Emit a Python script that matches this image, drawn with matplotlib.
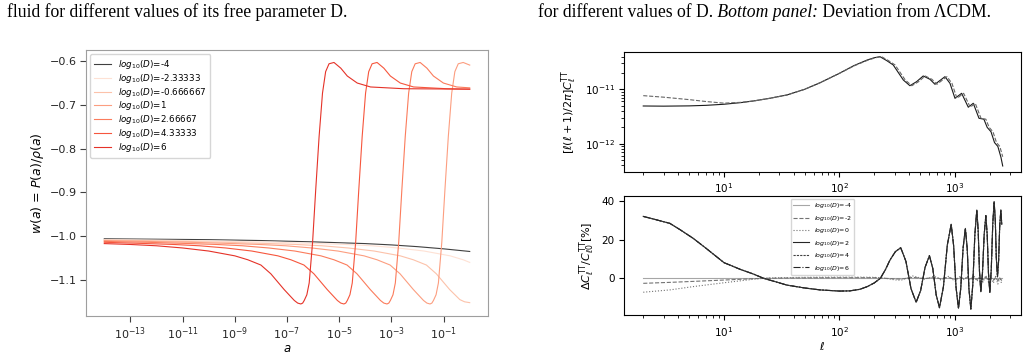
import numpy as np
import matplotlib
matplotlib.use("Agg")
import matplotlib.pyplot as plt
from matplotlib.ticker import NullLocator

# ---- left panel: w(a) (x given as log10 a)
labels_left = ['-4', '-2.33333', '-0.666667', '1', '2.66667', '4.33333', '6']

loga_m4 = [-14, -12, -10, -8, -6, -4, -3, -2, -1, -0.5, 0]
w_m4 = [-1.006, -1.007, -1.008, -1.010, -1.013, -1.017, -1.020, -1.024, -1.029, -1.032, -1.035]

loga_m233 = [-14, -12.32, -10.72, -9.02, -7.42, -5.75, -4.75, -3.75, -2.75, -1.75, -0.75, -0.25, 0]
w_m233 = [-1.008, -1.009, -1.010, -1.012, -1.014, -1.017, -1.019, -1.022, -1.027, -1.034, -1.045, -1.054, -1.060]

loga_m067 = [-14, -12.63, -10.93, -9.33, -7.66, -6.66, -5.66, -4.66, -3.66, -2.66, -2.16, -1.66, -1.28, -0.77, -0.38, -0.2, 0]
w_m067 = [-1.009, -1.010, -1.012, -1.014, -1.017, -1.019, -1.022, -1.027, -1.034, -1.045, -1.054, -1.066, -1.086, -1.122, -1.145, -1.150, -1.152]

loga_1 = [-14, -12.32, -10.72, -9.05, -8.05, -7.05, -6.05, -5.05, -4.05, -3.55, -3.05, -2.67, -2.16, -1.77, -1.64, -1.52,
          -1.45, -1.39, -1.29, -1.20, -1.07, -0.95, -0.82, -0.69, -0.57, -0.44, -0.25, 0]
w_1 = [-1.010, -1.012, -1.014, -1.017, -1.019, -1.022, -1.027, -1.034, -1.045, -1.054, -1.066, -1.086, -1.122, -1.147, -1.153, -1.155,
       -1.153, -1.147, -1.134, -1.107, -1.014, -0.894, -0.772, -0.673, -0.624, -0.606, -0.603, -0.609]

loga_267 = [-14, -12.37, -10.70, -9.70, -8.70, -7.70, -6.70, -5.70, -5.20, -4.70, -4.32, -3.81, -3.42, -3.29, -3.17,
            -3.10, -3.04, -2.94, -2.85, -2.72, -2.60, -2.47, -2.34, -2.22, -2.09, -1.90, -1.64, -1.39, -1.01, -0.50, 0]
w_267 = [-1.012, -1.014, -1.017, -1.019, -1.022, -1.027, -1.034, -1.045, -1.054, -1.066, -1.086, -1.122, -1.147, -1.153, -1.155,
         -1.153, -1.147, -1.134, -1.107, -1.014, -0.894, -0.772, -0.673, -0.624, -0.606, -0.603, -0.616, -0.634, -0.650, -0.659, -0.661]

loga_433 = [-14, -12.35, -11.35, -10.35, -9.35, -8.35, -7.35, -6.85, -6.35, -5.97, -5.46, -5.07, -4.94, -4.82,
            -4.75, -4.69, -4.59, -4.50, -4.37, -4.25, -4.12, -3.99, -3.87, -3.74, -3.55, -3.29, -3.04, -2.66, -2.15, -0.88, 0]
w_433 = [-1.014, -1.017, -1.019, -1.022, -1.027, -1.034, -1.045, -1.054, -1.066, -1.086, -1.122, -1.147, -1.153, -1.155,
         -1.153, -1.147, -1.134, -1.107, -1.014, -0.894, -0.772, -0.673, -0.624, -0.606, -0.603, -0.616, -0.634, -0.650, -0.659, -0.663, -0.664]

loga_6 = [-14, -13, -12, -11, -10, -9, -8.5, -8, -7.62, -7.11, -6.72, -6.59, -6.47, -6.40, -6.34, -6.24, -6.15, -6.02, -5.90,
          -5.77, -5.64, -5.52, -5.39, -5.20, -4.94, -4.69, -4.31, -3.80, -2.53, 0]
w_6 = [-1.017, -1.019, -1.022, -1.027, -1.034, -1.045, -1.054, -1.066, -1.086, -1.122, -1.147, -1.153, -1.155, -1.153, -1.147, -1.134, -1.107, -1.014, -0.894,
       -0.772, -0.673, -0.624, -0.606, -0.603, -0.616, -0.634, -0.650, -0.659, -0.663, -0.664]

# ---- right top: [l(l+1)/2pi] C_l^TT (log10), two groups of curves
ell_a = [2, 3, 5, 7, 10, 14, 18, 25, 35, 50, 68, 100, 133, 174, 200, 224, 257, 292, 357, 407, 465, 531, 607, 671,
         750, 819, 905, 1000, 1142, 1304, 1440, 1614, 1780, 1900, 2050, 2200, 2350, 2500, 2590]
logcl_a = [-11.307, -11.310, -11.305, -11.295, -11.275, -11.245, -11.215, -11.165, -11.105, -11.00, -10.879, -10.706,
           -10.566, -10.461, -10.42, -10.40, -10.474, -10.553, -10.829, -10.934, -10.86, -10.755, -10.816, -10.908,
           -10.83, -10.768, -10.89, -11.166, -11.074, -11.33, -11.257, -11.533, -11.55, -11.70, -11.78, -11.98,
           -12.05, -12.25, -12.41]
ell_b = [2, 3, 5, 7, 10, 14, 18, 25, 35, 50, 68, 100, 135, 178, 206, 231, 266, 303, 371, 423, 484, 552, 631, 698,
         780, 852, 941, 1040, 1188, 1356, 1498, 1679, 1851, 1976, 2132, 2288, 2444, 2590]
logcl_b = [-11.117, -11.145, -11.19, -11.225, -11.255, -11.24, -11.215, -11.165, -11.105, -11.00, -10.879, -10.706,
           -10.566, -10.461, -10.42, -10.40, -10.474, -10.553, -10.829, -10.934, -10.86, -10.755, -10.816, -10.908,
           -10.83, -10.768, -10.89, -11.166, -11.074, -11.33, -11.257, -11.533, -11.55, -11.70, -11.78, -11.98,
           -12.05, -12.24]

# ---- right bottom: deviation from LCDM [%]
labels_right = ['-4', '-2', '0', '2', '4', '6']
ell_big = [2, 2.5, 3.4, 4.2, 5.4, 7, 10, 14, 18, 22, 28, 35, 50, 68, 100, 123, 150, 174, 200, 226, 250, 274, 305, 339,
           376, 416, 461, 504, 551, 601, 643, 687, 734, 794, 858, 927, 973, 1021, 1072, 1122, 1175, 1230, 1276, 1321,
           1372, 1427, 1486, 1545, 1588, 1630, 1674, 1730, 1790, 1850, 1901, 1950, 2003, 2061, 2123, 2183, 2234,
           2280, 2333, 2388, 2438, 2495, 2541]
dev_big = [32.0, 30.5, 28.4, 25.0, 20.7, 15.5, 8.1, 4.5, 2.2, 0.0, -1.8, -3.5, -5.0, -6.0, -6.6, -6.5, -5.7, -4.3,
           -2.4, 0.0, 4.5, 9.5, 13.8, 15.8, 8.8, -5.3, -12.4, -6.4, 5.7, 11.7, 5.0, -8.5, -15.2, -4.4, 17.1, 27.9,
           17.0, -4.6, -15.5, -5.2, 15.5, 25.8, 15.4, -5.5, -15.9, -3.1, 22.5, 35.3, 24.7, 3.6, -6.9, 2.9, 22.6,
           32.4, 22.5, 2.6, -7.3, 4.4, 27.9, 39.6, 29.9, 10.5, 0.8, 9.4, 26.7, 35.3, 27.9]
ell_small = [2, 3.4, 5.4, 10, 18, 22, 30, 50, 100, 150, 200, 250, 300, 340, 380, 430, 480, 540, 600, 650, 700,
             760, 820, 880, 950, 1000, 1060, 1120, 1200, 1280, 1350, 1450, 1550, 1650, 1750, 1850, 1950, 2050,
             2150, 2250, 2350, 2450, 2541]
dev_d0 = [-7.2, -6.0, -4.3, -2.3, -0.5, 0.0, 0.3, 0.5, 0.6, 0.6, 0.5, 0.0, -0.8, -1.0, 0.0, 1.2, 0.5, -0.5, 0.3,
          1.0, 0.5, -1.0, 0.2, 1.0, -0.5, -1.5, 0.0, 1.2, -0.8, 1.0, -1.0, 1.5, -1.5, 1.2, -2.0, 1.5, -2.0, 1.0,
          -2.5, 1.0, -3.0, 0.5, -3.1]
dev_dm2 = [-2.6, -2.1, -1.6, -0.9, -0.2, 0.0, 0.1, 0.2, 0.3, 0.3, 0.3, 0.0, -0.3, -0.4, 0.0, 0.5, 0.2, -0.2, 0.1,
           0.4, 0.2, -0.4, 0.1, 0.4, -0.2, -0.6, 0.0, 0.5, -0.3, 0.4, -0.4, 0.6, -0.6, 0.5, -0.8, 0.6, -0.8, 0.4,
           -1.0, 0.4, -1.2, 0.2, -1.2]
dev_dm4 = [0.0] * len(ell_small)

W, H = 1028, 354
fig = plt.figure(figsize=(W / 100, H / 100), dpi=100)

# ---------------- left panel
ax = fig.add_axes([86 / W, 1 - 316 / H, (488 - 86) / W, (316 - 50) / H])
reds = plt.cm.Reds(np.linspace(0.12, 0.66, 6))
curves = [(loga_m233, w_m233), (loga_m067, w_m067), (loga_1, w_1),
          (loga_267, w_267), (loga_433, w_433), (loga_6, w_6)]
ax.plot(10 ** np.array(loga_m4), w_m4, color='0.25', lw=0.8, label=r'$log_{10}(D)$=' + labels_left[0])
for (lx, wy), c, lab in zip(curves, reds, labels_left[1:]):
    ax.plot(10 ** np.array(lx), wy, color=c, lw=0.8, label=r'$log_{10}(D)$=' + lab)
ax.set_xscale('log')
ax.set_xlim(10 ** -14.7, 10 ** 0.7)
ax.set_ylim(-1.1825, -0.5745)
ax.set_xticks([1e-13, 1e-11, 1e-9, 1e-7, 1e-5, 1e-3, 1e-1])
ax.xaxis.set_minor_locator(NullLocator())
ax.set_yticks([-1.1, -1.0, -0.9, -0.8, -0.7, -0.6])
for s in ax.spines.values():
    s.set_color('0.62')
ax.tick_params(labelsize=8, color='0.25', labelcolor='0.15', length=4, pad=2.5)
ax.set_xlabel(r'$a$', fontsize=8.5, labelpad=0)
ax.set_ylabel(r'$w(a)$ = $P(a)/\rho(a)$', fontsize=9, labelpad=3)
ax.legend(loc='upper left', fontsize=6.3, handlelength=2.0, labelspacing=0.1, framealpha=0.8)

# ---------------- right top
ax1 = fig.add_axes([624.3 / W, 1 - 171.7 / H, (1020.7 - 624.3) / W, (171.7 - 52.3) / H])
ax1.plot(ell_a, 10 ** np.array(logcl_a), color='0.1', lw=0.8)
ax1.plot(ell_b, 10 ** np.array(logcl_b), color='0.4', lw=0.8, ls='--')
ax1.set_xscale('log')
ax1.set_yscale('log')
ax1.set_xlim(10 ** 0.137, 10 ** 3.569)
ax1.set_ylim(10 ** -12.515, 10 ** -10.32)
ax1.tick_params(labelsize=7.5)
ax1.set_ylabel(r'$[\ell(\ell+1)/2\pi]C_\ell^{\rm TT}$', fontsize=8)

# ---------------- right bottom
ax2 = fig.add_axes([624.3 / W, 1 - 315 / H, (1020.7 - 624.3) / W, (315 - 195.7) / H])
styles = [('0.65', '-', dev_dm4, ell_small), ('0.45', '--', dev_dm2, ell_small), ('0.45', ':', dev_d0, ell_small),
          ('0.15', '-', dev_big, ell_big), ('0.25', (0, (2, 1)), dev_big, ell_big), ('0.15', '-.', dev_big, ell_big)]
for (c, ls, dv, el), lab in zip(styles, labels_right):
    ax2.plot(el, dv, color=c, ls=ls, lw=0.8, label=r'$log_{10}(D)$=' + lab)
ax2.set_xscale('log')
ax2.set_xlim(10 ** 0.137, 10 ** 3.569)
ax2.set_ylim(-18.97, 42.7)
ax2.set_yticks([0, 20, 40])
ax2.tick_params(labelsize=7.5)
ax2.set_xlabel(r'$\ell$', fontsize=8, labelpad=1)
ax2.set_ylabel(r'$\Delta C_\ell^{\rm TT}/C_{\ell 0}^{\rm TT}[\%]$', fontsize=8, labelpad=3)
ax2.legend(loc='upper center', fontsize=4.5, handlelength=2.5, labelspacing=0.55, framealpha=0.8)

# ---------------- caption fragments of the page
cap = dict(fontfamily='Liberation Serif', fontsize=12.7, va='baseline', color='black')
yb = 1 - 16.7 / H
fig.text(7 / W, yb, 'fluid for different values of its free parameter D.', **cap)
fig.canvas.draw()
r = fig.canvas.get_renderer()
inv = fig.transFigure.inverted()
t1 = fig.text(538 / W, yb, 'for different values of D.', **cap)
x1 = inv.transform((t1.get_window_extent(r).x1, 0))[0]
t2 = fig.text(x1, yb, ' Bottom panel:', style='italic', **cap)
x2 = inv.transform((t2.get_window_extent(r).x1, 0))[0]
fig.text(x2, yb, ' Deviation from \u039bCDM.', **cap)

fig.savefig('out.png', dpi=100)
